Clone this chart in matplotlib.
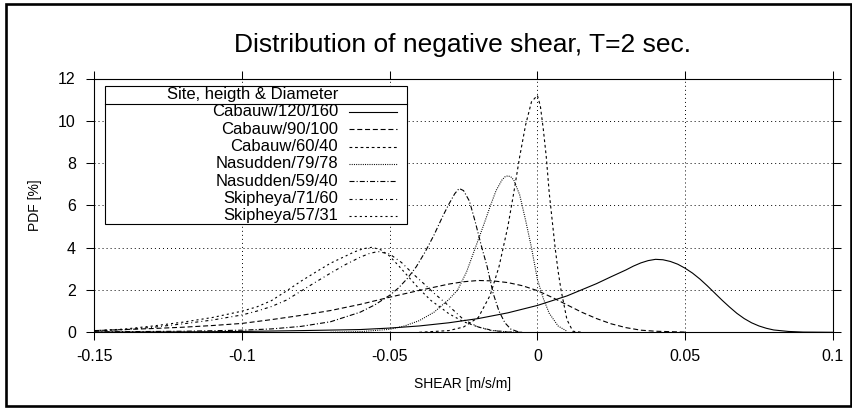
import matplotlib
matplotlib.use("Agg")
import matplotlib.pyplot as plt
from matplotlib.patches import Rectangle
from matplotlib.lines import Line2D

plt.rcParams['font.family'] = ['Liberation Sans', 'DejaVu Sans']
plt.rcParams['lines.scale_dashes'] = False

# values
cab120_x = [-0.15, -0.12, -0.1, -0.08, -0.06, -0.05, -0.04, -0.03, -0.02, -0.01, 0.0, 0.01,
            0.02, 0.025, 0.03, 0.0325, 0.035, 0.0375, 0.04, 0.0425, 0.045, 0.0475, 0.05,
            0.0525, 0.055, 0.0575, 0.06, 0.0625, 0.065, 0.0675, 0.07, 0.0725, 0.075, 0.0775,
            0.08, 0.085, 0.09, 0.1]
cab120_y = [0.01, 0.02, 0.04, 0.08, 0.13, 0.2, 0.3, 0.45, 0.65, 0.92, 1.27, 1.72,
            2.3, 2.63, 2.95, 3.13, 3.28, 3.39, 3.45, 3.43, 3.35, 3.22, 3.03,
            2.8, 2.52, 2.2, 1.86, 1.52, 1.2, 0.9, 0.65, 0.45, 0.3, 0.19,
            0.11, 0.04, 0.01, 0.0]

cab90_x = [-0.15, -0.14, -0.13, -0.12, -0.11, -0.1, -0.09, -0.08, -0.07, -0.06, -0.05, -0.04,
           -0.03, -0.025, -0.02, -0.015, -0.01, -0.005, 0.0, 0.005, 0.01, 0.015, 0.02, 0.025,
           0.03, 0.035, 0.04, 0.05]
cab90_y = [0.08, 0.13, 0.18, 0.24, 0.32, 0.42, 0.6, 0.8, 1.03, 1.32, 1.66, 1.98,
           2.28, 2.39, 2.45, 2.43, 2.35, 2.2, 1.97, 1.65, 1.3, 0.95, 0.65, 0.4,
           0.22, 0.1, 0.05, 0.01]

cab60_x = [-0.04, -0.03, -0.025, -0.02, -0.016, -0.013, -0.01, -0.008, -0.006, -0.004, -0.002,
           0.0, 0.001, 0.002, 0.003, 0.004, 0.005, 0.006, 0.007, 0.008, 0.01, 0.012, 0.015]
cab60_y = [0.0, 0.08, 0.25, 0.7, 1.75, 3.1, 5.0, 6.6, 8.3, 9.8, 10.9,
           11.2, 10.7, 9.6, 8.3, 6.6, 5.3, 4.0, 2.9, 2.0, 0.6, 0.05, 0.0]

nas79_x = [-0.07, -0.06, -0.05, -0.045, -0.04, -0.035, -0.03, -0.027, -0.024, -0.021, -0.018,
           -0.016, -0.014, -0.012, -0.011, -0.01, -0.009, -0.008, -0.006, -0.004, -0.002, 0.0,
           0.002, 0.004, 0.007, 0.01]
nas79_y = [0.0, 0.03, 0.14, 0.3, 0.55, 0.95, 1.55, 2.0, 2.85, 4.0, 5.15,
           5.95, 6.7, 7.2, 7.35, 7.4, 7.35, 7.2, 6.5, 5.3, 4.0, 2.5,
           1.6, 0.9, 0.3, 0.05]

nas59_x = [-0.15, -0.12, -0.1, -0.09, -0.08, -0.07, -0.06, -0.055, -0.05, -0.047, -0.044,
           -0.041, -0.038, -0.035, -0.032, -0.03, -0.028, -0.0265, -0.025, -0.023, -0.021,
           -0.019, -0.017, -0.015, -0.013, -0.011, -0.009, -0.006]
nas59_y = [0.02, 0.05, 0.1, 0.16, 0.28, 0.5, 0.95, 1.3, 1.75, 2.1, 2.55,
           3.1, 3.8, 4.6, 5.5, 6.05, 6.55, 6.8, 6.7, 6.2, 5.2,
           4.1, 3.1, 1.85, 1.0, 0.45, 0.15, 0.0]

skip71_x = [-0.15, -0.14, -0.13, -0.12, -0.11, -0.1, -0.095, -0.09, -0.085, -0.08, -0.075,
            -0.07, -0.065, -0.06, -0.057, -0.054, -0.05, -0.046, -0.042, -0.0386, -0.035,
            -0.03, -0.025, -0.02, -0.015, -0.01, -0.005]
skip71_y = [0.06, 0.12, 0.24, 0.4, 0.58, 0.82, 1.0, 1.22, 1.52, 1.95, 2.38,
            2.8, 3.2, 3.55, 3.72, 3.82, 3.7, 3.3, 2.75, 2.32, 1.85,
            1.25, 0.6, 0.25, 0.08, 0.01, 0.0]

skip57_x = [-0.15, -0.14, -0.13, -0.12, -0.11, -0.1, -0.095, -0.09, -0.085, -0.08, -0.075,
            -0.07, -0.065, -0.062, -0.059, -0.056, -0.053, -0.05, -0.047, -0.044, -0.04,
            -0.036, -0.033, -0.03, -0.025, -0.02, -0.016, -0.01, -0.005]
skip57_y = [0.08, 0.15, 0.3, 0.48, 0.7, 1.0, 1.2, 1.5, 1.95, 2.42, 2.85,
            3.27, 3.6, 3.8, 3.95, 4.02, 3.9, 3.6, 3.15, 2.68, 2.05,
            1.5, 1.2, 0.88, 0.5, 0.25, 0.1, 0.02, 0.0]

labels = ['Cabauw/120/160', 'Cabauw/90/100', 'Cabauw/60/40', 'Nasudden/79/78',
          'Nasudden/59/40', 'Skipheya/71/60', 'Skipheya/57/31']
series = [(cab120_x, cab120_y), (cab90_x, cab90_y), (cab60_x, cab60_y), (nas79_x, nas79_y),
          (nas59_x, nas59_y), (skip71_x, skip71_y), (skip57_x, skip57_y)]
xticks = [-0.15, -0.1, -0.05, 0, 0.05, 0.1]
xtick_labels = ['-0.15', '-0.1', '-0.05', '0', '0.05', '0.1']
yticks = [0, 2, 4, 6, 8, 10, 12]

# gnuplot-like dash types (points)
styles = ['-', (0, (3.6, 2.0)), (0, (2.0, 2.0)), (0, (0.7, 0.9)),
          (0, (3.6, 1.5, 0.8, 1.5)), (0, (2.2, 2.2, 0.7, 2.2)), (0, (1.5, 2.2))]

W, H = 852, 408


def fx(px):
    return px / W


def fy(py):
    return 1 - py / H


fig = plt.figure(figsize=(W / 100, H / 100), dpi=100)

# outer frame
fig.add_artist(Rectangle((fx(5.5), fy(405.5)), fx(850.5) - fx(5.5), fy(4) - fy(405.5),
                         transform=fig.transFigure, fill=False, lw=1.9, ec='black'))

ax = fig.add_axes([fx(94.3), fy(332.3), (832.8 - 94.3) / W, (332.3 - 78.5) / H])
for (x, y), ls in zip(series, styles):
    ax.plot(x, y, color='black', lw=0.8, linestyle=ls)

ax.set_xlim(-0.15, 0.1)
ax.set_ylim(0, 12)
ax.set_xticks(xticks)
ax.set_xticklabels(xtick_labels)
ax.set_yticks(yticks)
ax.tick_params(direction='out', length=5.8, width=0.75, top=True, right=True, labelsize=11.5)
ax.tick_params(axis='x', pad=6)
ax.tick_params(axis='y', pad=7.5)
ax.grid(True, color='black', linestyle=(0, (0.7, 2.2)), linewidth=0.7)
for s in ax.spines.values():
    s.set_linewidth(0.8)

fig.text(fx(462), fy(45), 'Distribution of negative shear, T=2 sec.', ha='center', va='center',
         fontsize=19)
fig.text(fx(463), fy(384), 'SHEAR [m/s/m]', ha='center', va='center', fontsize=10)
fig.text(fx(35), fy(205), 'PDF [%]', ha='center', va='center', rotation=90, fontsize=10)

# key box, drawn gnuplot style
fig.add_artist(Rectangle((fx(105), fy(224)), fx(407) - fx(105), fy(86) - fy(224),
                         transform=fig.transFigure, fc='white', ec='black', lw=0.8, zorder=5))
fig.add_artist(Line2D([fx(105), fx(407)], [fy(103.7), fy(103.7)], transform=fig.transFigure,
                      color='black', lw=0.8, zorder=6))
fig.text(fx(338), fy(95), 'Site, heigth & Diameter', ha='right', va='center', fontsize=12,
         zorder=7)
for i, (lab, ls) in enumerate(zip(labels, styles)):
    yy = 112 + i * 17.3
    fig.text(fx(338), fy(yy), lab, ha='right', va='center', fontsize=12, zorder=7)
    fig.add_artist(Line2D([fx(349), fx(397)], [fy(yy), fy(yy)], transform=fig.transFigure,
                          color='black', lw=0.8, linestyle=ls, zorder=7))

fig.savefig('out.png', dpi=100)
